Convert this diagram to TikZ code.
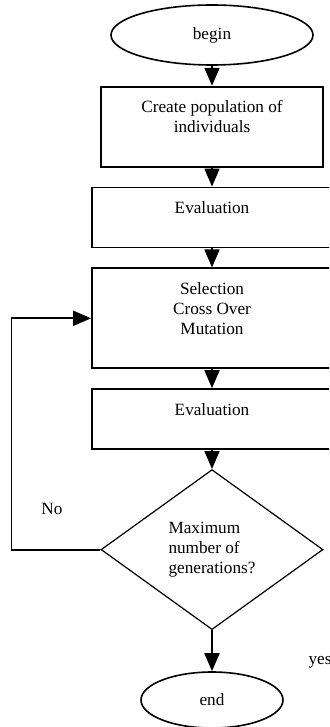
\documentclass[tikz,border=0pt]{standalone}
\usepackage{fontspec}
\setmainfont{Liberation Serif}
\usetikzlibrary{shapes.geometric,arrows.meta,positioning}
\tikzstyle{terminal} = [ellipse, draw, line width=0.8pt, inner sep=0pt]
\tikzstyle{block} = [rectangle, draw, line width=0.9pt, minimum width=120pt, align=center, inner sep=0pt]
\tikzstyle{decision} = [diamond, draw, line width=0.6pt, minimum width=111pt, minimum height=80pt, align=left, inner sep=0pt]
\tikzstyle{line} = [draw, line width=0.9pt, -{Triangle[length=9pt,width=7.5pt]}]

\begin{document}
\begin{tikzpicture}[node distance=9.5pt, font=\fontsize{8.6}{10}\selectfont]
  \clip (0,0) rectangle (164.5pt,-363.5pt);
  \node [terminal, minimum width=101pt, minimum height=30pt] (begin) at (106pt,-17.5pt) {begin};
  \node [block, below=10pt of begin, minimum width=111pt, minimum height=40pt] (create) {Create population of\\individuals\\~};
  \node [block, below=of create, minimum height=30pt] (eval1) {Evaluation\\~};
  \node [block, below=of eval1, minimum height=50pt] (select) {Selection\\Cross Over\\Mutation\\~};
  \node [block, below=of select, minimum height=30pt] (eval2) {Evaluation\\~};
  \node [decision, below=of eval2] (check) {Maximum\\number of\\generations?};
  \node [terminal, below=20.5pt of check, minimum width=71pt, minimum height=28pt] (end) {end};

  \node (no) at (26pt,-254.5pt) {No};
  \node (yes) at (160pt,-331pt) {yes};

  \coordinate (loop) at ([xshift=-44.5pt]check.west);

  \path [line] (begin) -- (create);
  \path [line] (create) -- (eval1);
  \path [line] (eval1) -- (select);
  \path [line] (select) -- (eval2);
  \path [line] (eval2) -- (check);
  \path [line] (check) -- (end);
  \path [line] (check.west) -- (loop) |- (select.west);
\end{tikzpicture}
\end{document}
